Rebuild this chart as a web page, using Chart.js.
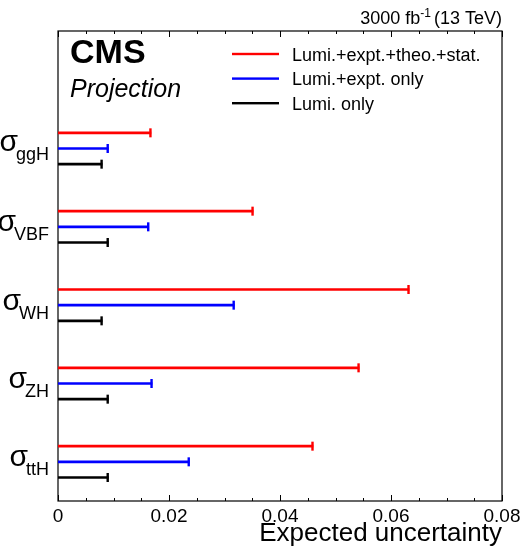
<!DOCTYPE html>
<html>
<head>
<meta charset="utf-8">
<script src="https://cdn.jsdelivr.net/npm/chart.js@4.4.0/dist/chart.umd.min.js"></script>
<style>
  html, body { margin: 0; padding: 0; background: #fff; }
</style>
</head>
<body>
<canvas id="chart" width="524" height="552"></canvas>
<script>
// data
const categories = ['', 'ggH', 'VBF', 'WH', 'ZH', 'ttH'];
const seriesNames = ['Lumi.+expt.+theo.+stat.', 'Lumi.+expt. only', 'Lumi. only'];
const seriesColors = ['#ff0000', '#0000ff', '#000000'];
const fullUnc = [null, 0.0168, 0.0352, 0.0633, 0.0543, 0.0460];
const exptUnc = [null, 0.0091, 0.0164, 0.0318, 0.0170, 0.0237];
const lumiUnc = [null, 0.0080, 0.0091, 0.0080, 0.0091, 0.0091];
const xTicks = [0, 0.02, 0.04, 0.06, 0.08];

const FONT = 'Liberation Sans, Arial, sans-serif';
const ctx = document.querySelector('#chart');

// end caps on each bar
const capPlugin = {
    id: 'caps',
    afterDatasetsDraw(chart) {
        const c = chart.ctx;
        chart.data.datasets.forEach((ds, i) => {
            const meta = chart.getDatasetMeta(i);
            c.fillStyle = ds.backgroundColor;
            meta.data.forEach((bar, j) => {
                if (ds.data[j] == null) return;
                c.fillRect(bar.x - 2, bar.y - 4.5, 2.4, 9);
            });
        });
    }
};

// frame + inward ticks, ROOT style
const framePlugin = {
    id: 'frame',
    beforeDatasetsDraw(chart) {
        const c = chart.ctx;
        const a = chart.chartArea;
        const xs = chart.scales.x;
        c.save();
        c.strokeStyle = '#000';
        c.lineWidth = 1.2;
        c.strokeRect(a.left, a.top, a.right - a.left, a.bottom - a.top);
        c.lineWidth = 1;
        for (let i = 0; i <= 16; i++) {
            const v = i * 0.005;
            const px = Math.round(xs.getPixelForValue(v)) + 0.5;
            const len = (i % 4 === 0) ? 6 : 3;
            c.beginPath();
            c.moveTo(px, a.bottom); c.lineTo(px, a.bottom - len);
            c.moveTo(px, a.top); c.lineTo(px, a.top + len);
            c.stroke();
        }
        c.restore();
    }
};

// sigma labels with subscripts
const labelPlugin = {
    id: 'sigmaLabels',
    afterDraw(chart) {
        const c = chart.ctx;
        const ys = chart.scales.y;
        const right = chart.chartArea.left - 9;
        c.save();
        c.fillStyle = '#000';
        c.textBaseline = 'alphabetic';
        categories.forEach((name, i) => {
            if (!name) return;
            const yc = ys.getPixelForValue(i);
            c.font = '18px ' + FONT;
            const sm = c.measureText(name);
            c.font = '30px ' + FONT;
            const gm = c.measureText('σ');
            const subDrop = 9;
            // vertical box: sigma top .. max(sigma base, sub base + descent)
            const top = -gm.actualBoundingBoxAscent;
            const bot = Math.max(0, subDrop + sm.actualBoundingBoxDescent);
            const base = yc + 1 - (top + bot) / 2;
            const subX = right - sm.width;
            c.textAlign = 'right';
            c.fillText('σ', subX + 2, base);
            c.font = '18px ' + FONT;
            c.textAlign = 'left';
            c.fillText(name, subX, base + subDrop);
        });
        c.restore();
    }
};

// CMS label, lumi text and legend
const textPlugin = {
    id: 'texts',
    afterDraw(chart) {
        const c = chart.ctx;
        const a = chart.chartArea;
        c.save();
        c.fillStyle = '#000';
        c.textBaseline = 'alphabetic';

        // 3000 fb^-1 (13 TeV), right aligned
        c.textAlign = 'right';
        c.font = '18px ' + FONT;
        let x = a.right;
        c.fillText('(13 TeV)', x, 24);
        x -= c.measureText('(13 TeV)').width + 3;
        c.font = '12px ' + FONT;
        c.fillText('-1', x, 17);
        x -= c.measureText('-1').width;
        c.font = '18px ' + FONT;
        c.fillText('3000 fb', x, 24);

        c.textAlign = 'left';
        c.font = 'bold 34px ' + FONT;
        c.fillText('CMS', a.left + 12, 63);
        c.font = 'italic 25px ' + FONT;
        c.fillText('Projection', a.left + 12, 97);

        c.font = '18px ' + FONT;
        seriesNames.forEach((n, i) => {
            const ly = 54 + i * 24.6;
            c.fillStyle = seriesColors[i];
            c.fillRect(232, ly - 1.2, 47, 2.4);
            c.fillStyle = '#000';
            c.fillText(n, 292, ly + 6.5);
        });
        c.restore();
    }
};

const seriesData = [fullUnc, exptUnc, lumiUnc];

new Chart(ctx, {
    type: 'bar',
    data: {
        labels: categories,
        datasets: seriesNames.map((n, i) => ({
            label: n,
            data: seriesData[i],
            backgroundColor: seriesColors[i],
            borderWidth: 0,
            categoryPercentage: 0.6,
            barPercentage: 0.17
        }))
    },
    options: {
        indexAxis: 'y',
        responsive: false,
        animation: false,
        layout: { padding: { left: 58, right: 22, top: 31, bottom: 0 } },
        plugins: { legend: { display: false }, tooltip: { enabled: false } },
        scales: {
            x: {
                type: 'linear',
                min: 0,
                max: 0.08,
                grid: { display: false },
                border: { display: false },
                afterBuildTicks: s => { s.ticks = xTicks.map(v => ({ value: v })); },
                afterFit: s => { s.height = 51; },
                ticks: {
                    color: '#000',
                    padding: -4,
                    maxRotation: 0,
                    font: { family: FONT, size: 19 },
                    callback: v => String(v)
                },
                title: {
                    display: true,
                    text: 'Expected uncertainty',
                    align: 'end',
                    color: '#000',
                    font: { family: FONT, size: 26 },
                    padding: { top: 0, bottom: 3 }
                }
            },
            y: {
                type: 'category',
                offset: true,
                grid: { display: false },
                border: { display: false },
                ticks: { display: false },
                afterFit: s => { s.width = 0; }
            }
        }
    },
    plugins: [framePlugin, capPlugin, labelPlugin, textPlugin]
});
</script>
</body>
</html>
